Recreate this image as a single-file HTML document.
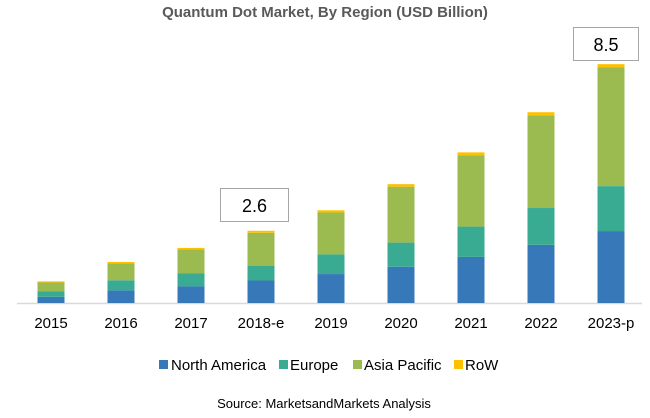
<!DOCTYPE html>
<html><head><meta charset="utf-8"><style>
body{margin:0;background:#fff;}
svg{display:block;font-family:"Liberation Sans",sans-serif;}
</style></head><body>
<svg id="chart" width="650" height="418">
<text x="325" y="17" text-anchor="middle" font-size="15" font-weight="bold" fill="#595959">Quantum Dot Market, By Region (USD Billion)</text>
<line x1="17" y1="303.5" x2="642" y2="303.5" stroke="#d9d9d9" stroke-width="1.5"/>
<g id="bars"></g>
<g id="labels"></g>
<g><rect x="220.5" y="188.5" width="68" height="33" fill="#fff" stroke="#a6a6a6"/><text x="254.5" y="212" text-anchor="middle" font-size="18" fill="#000">2.6</text></g>
<g><rect x="573.5" y="27.5" width="65" height="33" fill="#fff" stroke="#a6a6a6"/><text x="606" y="51" text-anchor="middle" font-size="18" fill="#000">8.5</text></g>
<g font-size="15" fill="#000">
<g><rect x="159" y="360" width="9" height="9" fill="#3778b8"/><text x="171" y="370">North America</text></g>
<g><rect x="279" y="360" width="9" height="9" fill="#3aab93"/><text x="290" y="370">Europe</text></g>
<g><rect x="353" y="360" width="9" height="9" fill="#9bbb50"/><text x="364" y="370">Asia Pacific</text></g>
<g><rect x="454" y="360" width="9" height="9" fill="#ffc000"/><text x="465" y="370">RoW</text></g>
</g>
<text x="324" y="408" text-anchor="middle" font-size="13" fill="#000">Source: MarketsandMarkets Analysis</text>
</svg>
<script>
const categories=["2015","2016","2017","2018–e","2019","2020","2021","2022","2023–p"];
const northAmerica=[0.22,0.45,0.59,0.80,1.03,1.29,1.64,2.07,2.56];
const europe=[0.19,0.36,0.46,0.53,0.70,0.86,1.08,1.31,1.60];
const asiaPacific=[0.32,0.60,0.86,1.17,1.49,1.99,2.54,3.29,4.22];
const row=[0.04,0.05,0.05,0.07,0.08,0.09,0.10,0.12,0.12];
const seriesList=[["north-america",northAmerica,"#3778b8"],["europe",europe,"#3aab93"],["asia-pacific",asiaPacific,"#9bbb50"],["row",row,"#ffc000"]];
const ns="http://www.w3.org/2000/svg";
const base=303,pxPerUnit=28.1;
function y(v){return base-v*pxPerUnit;}
function xc(i){return 51+i*70;}
const bw=27;
const bars=document.getElementById('bars'),labels=document.getElementById('labels');
categories.forEach((c,i)=>{
  let acc=0;
  seriesList.forEach(s=>{
    const v=s[1][i];
    const r=document.createElementNS(ns,'rect');
    r.setAttribute('x',xc(i)-bw/2);
    r.setAttribute('y',y(acc+v));
    r.setAttribute('width',bw);
    r.setAttribute('height',y(acc)-y(acc+v));
    r.setAttribute('fill',s[2]);
    
    
    bars.appendChild(r);
    acc+=v;
  });
  const t=document.createElementNS(ns,'text');
  t.setAttribute('x',xc(i));
  t.setAttribute('y',328);
  t.setAttribute('text-anchor','middle');
  t.setAttribute('font-size','15');
  t.textContent=c.replace('–','-');
  
  
  labels.appendChild(t);
});
</script>
</body></html>
